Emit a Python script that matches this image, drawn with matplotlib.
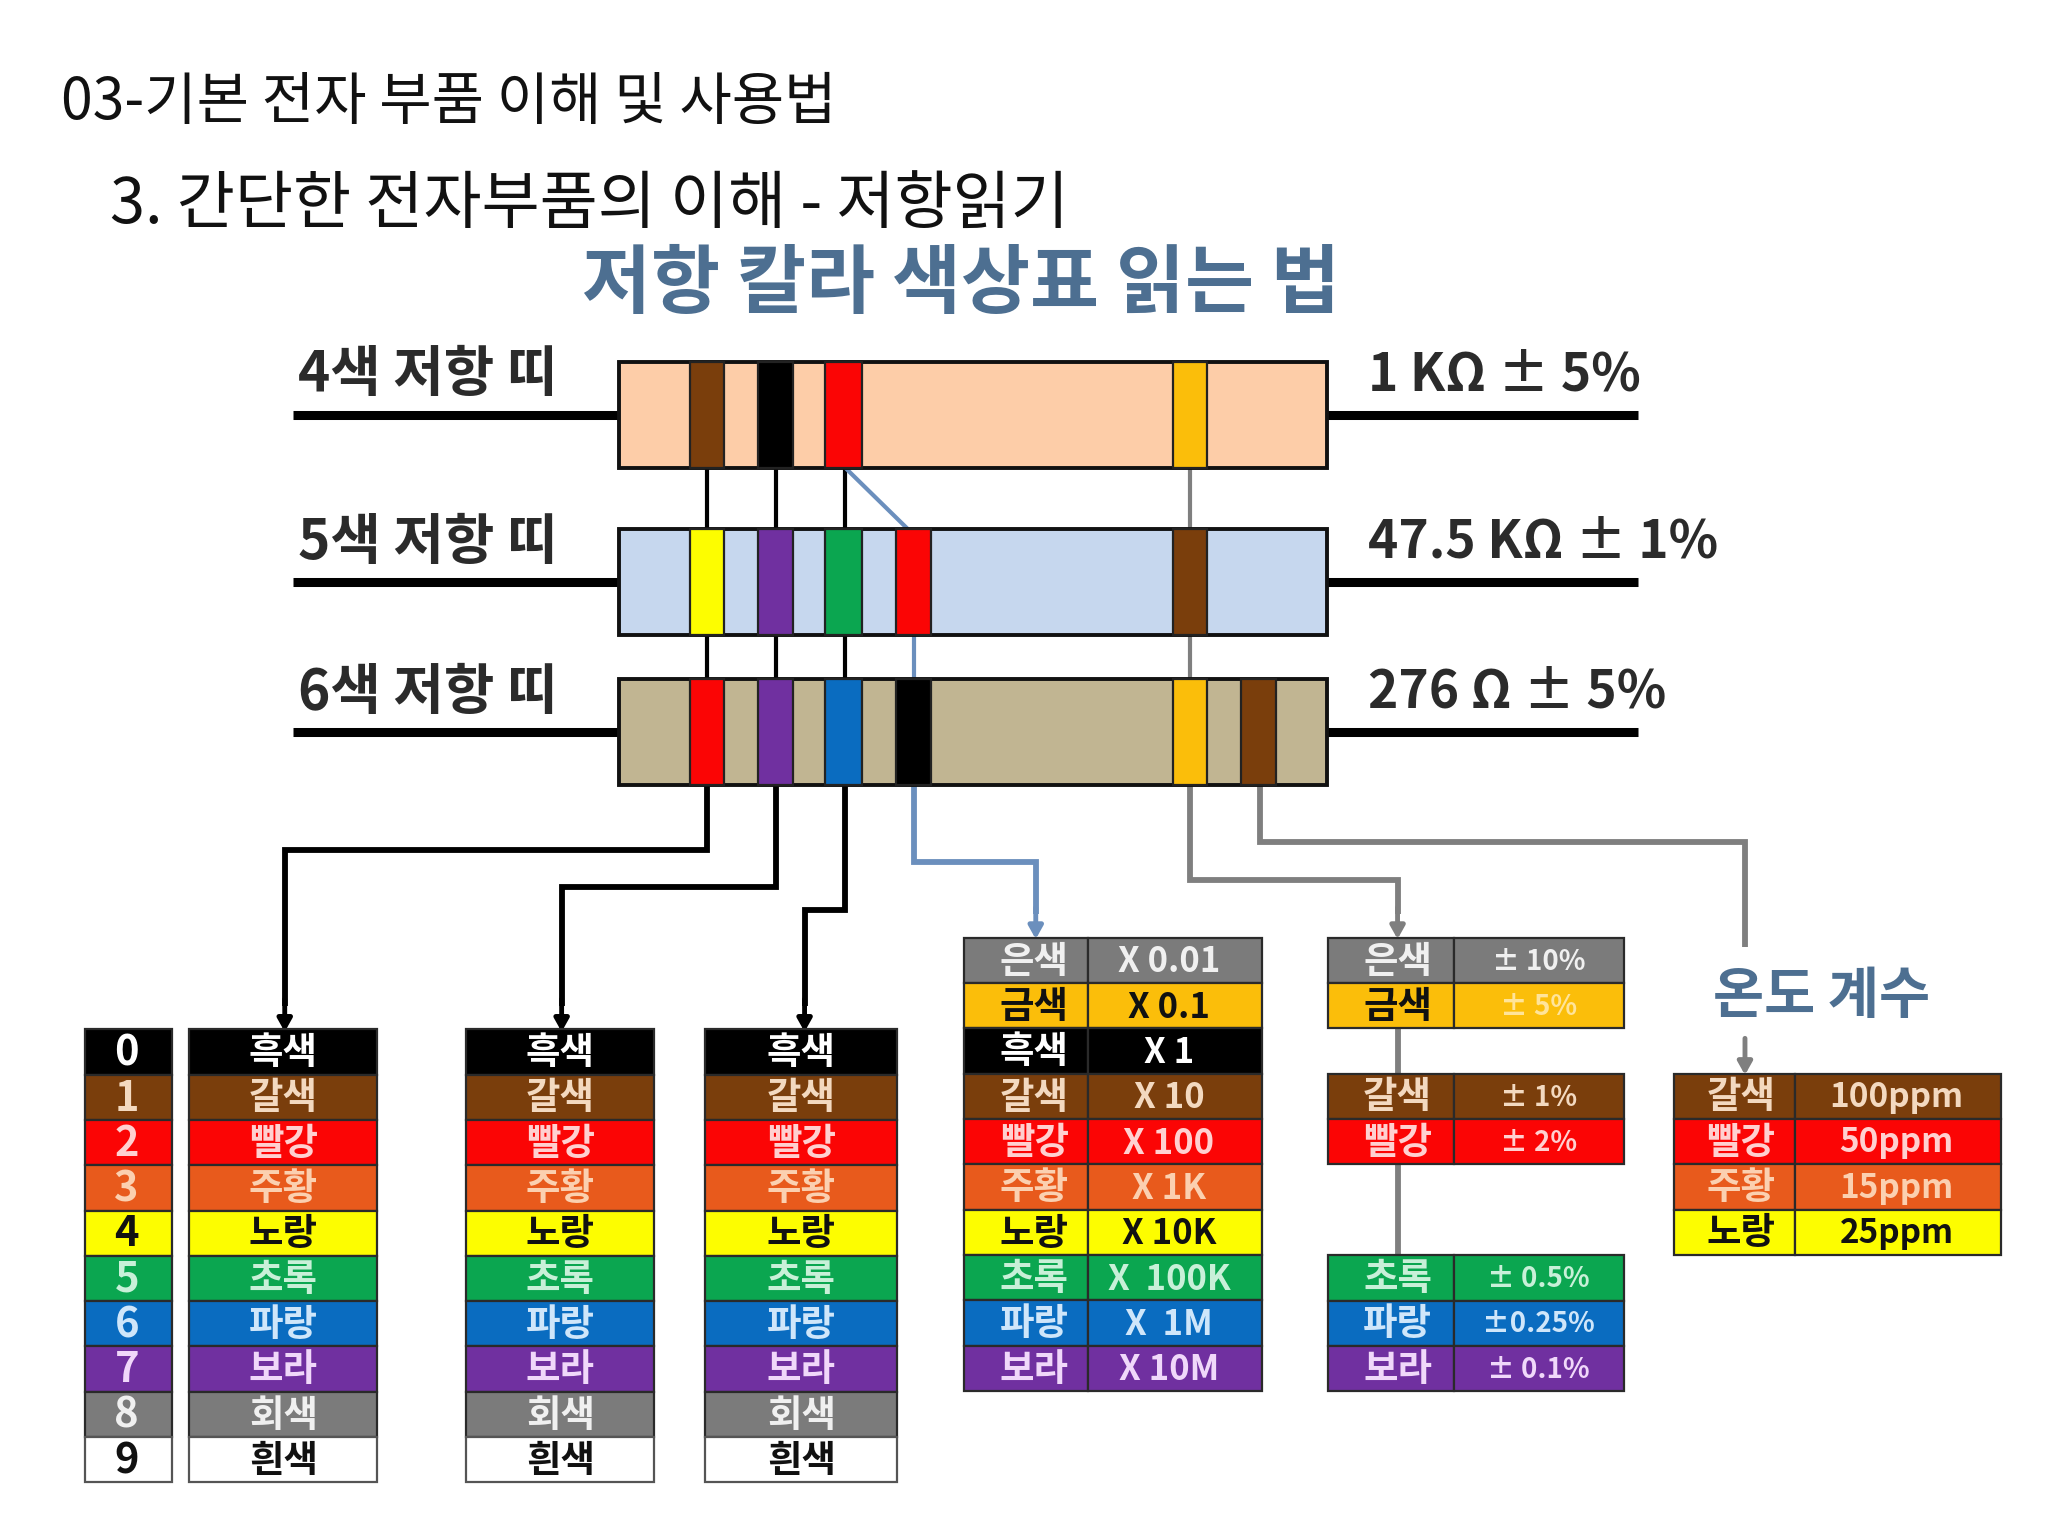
import matplotlib
matplotlib.use("Agg")
import matplotlib.pyplot as plt
from matplotlib.patches import Rectangle

plt.rcParams['font.family'] = ['Noto Sans CJK KR', 'DejaVu Sans']

# ---- content ----
page_title = "03-기본 전자 부품 이해 및 사용법"
page_subtitle = "3. 간단한 전자부품의 이해 - 저항읽기"
chart_title = "저항 칼라 색상표 읽는 법"
temp_title = "온도 계수"

resistor_names = ["4색 저항 띠", "5색 저항 띠", "6색 저항 띠"]
resistor_values = ["1 KΩ ± 5%", "47.5 KΩ ± 1%", "276 Ω ± 5%"]
resistor_bands = [
    ["brown", "black", "red", None, "gold", None],
    ["yellow", "purple", "green", "red", "brown", None],
    ["red", "purple", "blue", "black", "gold", "brown"],
]
digits = ["0", "1", "2", "3", "4", "5", "6", "7", "8", "9"]
digit_keys = ["black", "brown", "red", "orange", "yellow", "green", "blue", "purple", "gray", "white"]
digit_names = ["흑색", "갈색", "빨강", "주황", "노랑", "초록", "파랑", "보라", "회색", "흰색"]

mult_keys = ["gray", "gold", "black", "brown", "red", "orange", "yellow", "green", "blue", "purple"]
mult_names = ["은색", "금색", "흑색", "갈색", "빨강", "주황", "노랑", "초록", "파랑", "보라"]
mult_values = ["X 0.01", "X 0.1", "X 1", "X 10", "X 100", "X 1K", "X 10K", "X  100K", "X  1M", "X 10M"]

tol_keys = [["gray", "gold"], ["brown", "red"], ["green", "blue", "purple"]]
tol_names = [["은색", "금색"], ["갈색", "빨강"], ["초록", "파랑", "보라"]]
tol_values = [["± 10%", "± 5%"], ["± 1%", "± 2%"], ["± 0.5%", "±0.25%", "± 0.1%"]]

temp_keys = ["brown", "red", "orange", "yellow"]
temp_names = ["갈색", "빨강", "주황", "노랑"]
temp_values = ["100ppm", "50ppm", "15ppm", "25ppm"]

# ---- styles ----
COL = {"black": "#000000", "brown": "#7a3e0c", "red": "#fb0505", "orange": "#e85a1c",
       "yellow": "#fdfd00", "green": "#0ba650", "blue": "#0a6cc0", "purple": "#7030a0",
       "gray": "#7b7b7b", "white": "#ffffff", "gold": "#fbbe0a"}
DARK_TEXT = {"yellow", "white", "gold"}
TXT_LIGHT = {"black": "#ffffff", "brown": "#f3d9c0", "red": "#ffd0d0", "orange": "#fbd0b0",
             "green": "#c8f0d8", "blue": "#cfe6fa", "purple": "#f0d8fa", "gray": "#f0f0f0"}
BODY = ["#fdcda8", "#c6d7ee", "#c1b592"]
ROW = 34.7
BLUE_LINE = "#6b8fbd"
GRAY_LINE = "#7f7f7f"
TITLE_BLUE = "#4d6f91"

W, H = 1568, 1176
fig = plt.figure(figsize=(20.48, 15.36), dpi=100, facecolor="white")
ax = fig.add_axes([0, 0, 1, 1])
ax.set_xlim(0, W)
ax.set_ylim(H, 0)
ax.axis("off")


def tc(key):
    return "#111111" if key in DARK_TEXT else TXT_LIGHT.get(key, "#ffffff")


def path(xs, ys, color, lw=4.2, z=1):
    ax.plot(xs, ys, color=color, lw=lw, solid_joinstyle="miter", solid_capstyle="butt", zorder=z)


def arrow(x, y0, y1, color):
    ax.annotate("", xy=(x, y1), xytext=(x, y0), zorder=2,
                arrowprops=dict(arrowstyle="-|>,head_width=0.42,head_length=0.75", color=color,
                                lw=3.5, shrinkA=0, shrinkB=0))


def cell(x0, x1, y, key):
    ax.add_patch(Rectangle((x0, y), x1 - x0, ROW, facecolor=COL[key], edgecolor="#2a2a2a" if key != "white" else "#555555",
                           lw=1.6, zorder=3))


def label(x, y, s, key, size=27, color=None):
    ax.text(x, y, s, ha="center", va="center", fontsize=size, fontweight="bold", color=color or tc(key), zorder=4)


# page headings
ax.text(47, 79, page_title, ha="left", va="center", fontsize=41, color="#111111")
ax.text(84, 157, page_subtitle, ha="left", va="center", fontsize=45.5, color="#111111")
ax.text(736, 218, chart_title, ha="center", va="center", fontsize=54, fontweight="bold", color=TITLE_BLUE)

# resistors
BAND_X = [(528, 554), (580, 607), (632, 660), (686, 713), (898, 924), (950, 977)]
TOPS = [277, 405, 520]
HEIGHT = 81
NAME_Y = [287, 415, 530]
for i, top in enumerate(TOPS):
    mid = top + HEIGHT / 2
    path([224, 474], [mid, mid], "#000000", lw=6.5)
    path([1016, 1254], [mid, mid], "#000000", lw=6.5)
    ax.add_patch(Rectangle((474, top), 542, HEIGHT, facecolor=BODY[i], edgecolor="#111111", lw=2.8, zorder=3))
    for (x0, x1), key in zip(BAND_X, resistor_bands[i]):
        if key:
            ax.add_patch(Rectangle((x0, top), x1 - x0, HEIGHT, facecolor=COL[key], edgecolor="#222222", lw=1.6, zorder=4))
    ax.text(228, NAME_Y[i], resistor_names[i], ha="left", va="center", fontsize=39.5, fontweight="bold", color="#2b2b2b")
    ax.text(1047, NAME_Y[i], resistor_values[i], ha="left", va="center", fontsize=37, fontweight="bold", color="#2b2b2b")

# connectors between resistors
for x in (541, 594, 647):
    path([x, x], [358, 405], "#000000", lw=3)
    path([x, x], [486, 520], "#000000", lw=3)
path([647, 695], [358, 405], BLUE_LINE, lw=3)
path([700, 700], [486, 520], BLUE_LINE, lw=3)
path([911, 911], [358, 405], GRAY_LINE, lw=3)
path([911, 911], [486, 520], GRAY_LINE, lw=3)

# connectors to tables
path([541, 541, 218, 218], [601, 651, 651, 770], "#000000", lw=4.2)
arrow(218, 765, 790, "#000000")
path([594, 594, 430, 430], [601, 679, 679, 770], "#000000", lw=4.2)
arrow(430, 765, 790, "#000000")
path([647, 647, 616, 616], [601, 697, 697, 770], "#000000", lw=4.2)
arrow(616, 765, 790, "#000000")
path([700, 700, 793, 793], [601, 660, 660, 700], BLUE_LINE, lw=4.2)
arrow(793, 695, 719, BLUE_LINE)
path([911, 911, 1070, 1070], [601, 674, 674, 700], GRAY_LINE, lw=4.2)
arrow(1070, 695, 719, GRAY_LINE)
path([965, 965, 1336, 1336], [601, 645, 645, 725], GRAY_LINE, lw=4.2)
arrow(1336, 795, 823, GRAY_LINE)
path([1070, 1070], [788, 962], GRAY_LINE, lw=4.2)

# digit tables
TOP_D = 788
for r in range(10):
    y = TOP_D + r * ROW
    key = digit_keys[r]
    cell(65, 132, y, key)
    label(97, y + ROW / 2 + 1, digits[r], key, size=30)
    for x0, x1 in ((145, 289), (357, 501), (540, 687)):
        cell(x0, x1, y, key)
        label((x0 + x1) / 2, y + ROW / 2 + 0.5, digit_names[r], key)

# multiplier table
TOP_M = 718
for r in range(10):
    y = TOP_M + r * ROW
    key = mult_keys[r]
    cell(738, 833, y, key)
    cell(833, 966, y, key)
    label(792, y + ROW / 2 + 0.5, mult_names[r], key)
    label(895, y + ROW / 2 + 1, mult_values[r], key, size=25)

# tolerance tables
TOL_TOPS = [718, 822, 961]
for top, keys, names, vals in zip(TOL_TOPS, tol_keys, tol_names, tol_values):
    for r, key in enumerate(keys):
        y = top + r * ROW
        cell(1017, 1113, y, key)
        cell(1113, 1243, y, key)
        label(1070, y + ROW / 2 + 0.5, names[r], key)
        label(1178, y + ROW / 2 + 1, vals[r], key, size=20, color="#ffe49a" if key == "gold" else None)

# temperature table
ax.text(1395, 763, temp_title, ha="center", va="center", fontsize=40, fontweight="bold", color=TITLE_BLUE)
TOP_T = 822
for r, key in enumerate(temp_keys):
    y = TOP_T + r * ROW
    cell(1282, 1374, y, key)
    cell(1374, 1532, y, key)
    label(1333, y + ROW / 2 + 0.5, temp_names[r], key)
    label(1452, y + ROW / 2 + 1, temp_values[r], key, size=24)

fig.savefig("out.png", dpi=100, facecolor="white")
